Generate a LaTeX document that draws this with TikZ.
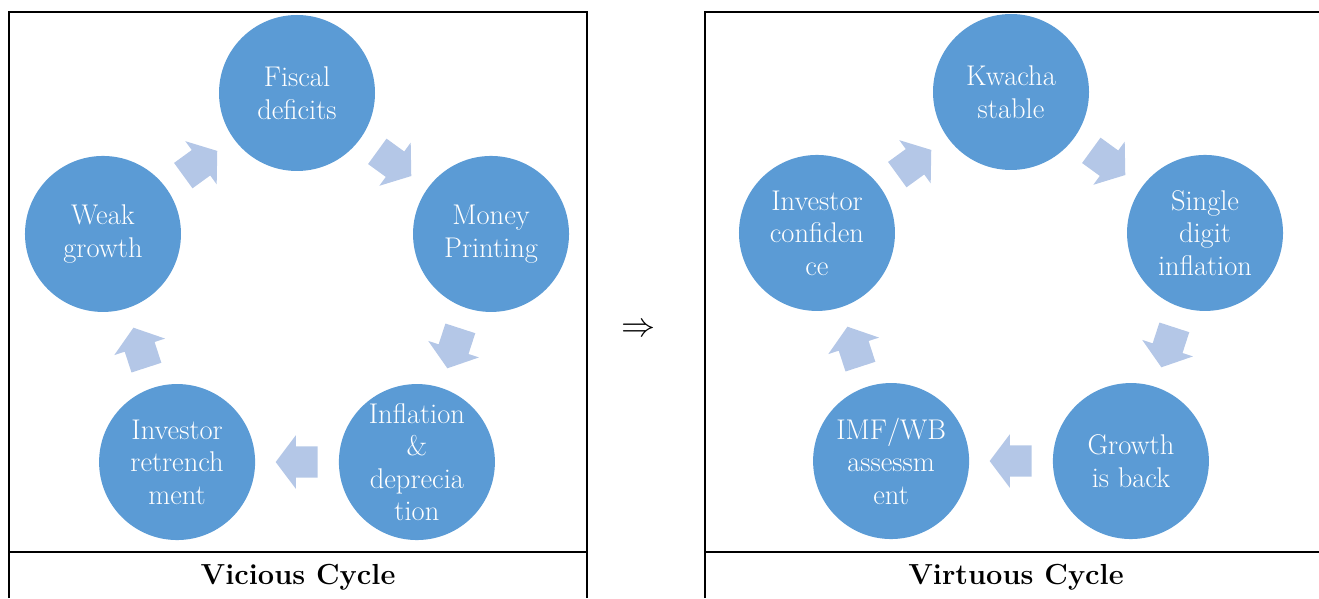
\documentclass[tikz,border=0pt]{standalone}
\usepackage{xcolor}
\definecolor{Cycle Blue}{HTML}{5B9BD5}
\definecolor{Arrow Blue}{HTML}{B4C7E7}
\colorlet{cNode}{Cycle Blue}
\colorlet{cArrow}{Arrow Blue}
\usepackage{tikz}
\usetikzlibrary{shapes.arrows}
\tikzset{
	x = 1pt,
	y = 1pt,
	cell/.style={
		line width=1.6pt
	},
	stage/.style={
		circle,
		fill=cNode,
		text=white,
		minimum size=156pt,
		inner sep=0pt,
		align=center,
		font=\fontsize{28.5}{32.5}\selectfont
	},
	turn/.style={
		single arrow,
		fill=cArrow,
		minimum height=42pt,
		inner xsep=0pt,
		inner ysep=15.5pt,
		single arrow head extend=11pt,
		single arrow tip angle=106,
		anchor=tail,
		pos=.25,
		sloped,
		allow upside down
	},
	caption/.style={
		font=\fontsize{29}{34}\selectfont\bfseries
	}
}

\begin{document}
\begin{tikzpicture}
		\useasboundingbox (0,0) rectangle (1319,598);

		% the two table cells
		\draw[cell] (9,0) -- (9,586) -- (587,586) -- (587,0);
		\draw[cell] (9,46) -- (587,46);
		\draw[cell] (705,0) -- (705,586) -- (1330,586);
		\draw[cell] (705,46) -- (1330,46);
		\node[caption] (vicious) at (298,21) {Vicious Cycle};
		\node[caption] (virtuous) at (1016,21) {Virtuous Cycle};
		\node[scale=3.4] (then) at (638,268) {$\Rightarrow$};

		\begin{scope}[shift={(297,301)}]
			\node[stage] (fiscal) at (90:204) {Fiscal\\deficits};
			\node[stage] (money) at (18:204) {Money\\Printing};
			\node[stage] (infl) at (-54:204) {Inflation\\\&\\deprecia\\tion};
			\node[stage] (retr) at (-126:204) {Investor\\retrench\\ment};
			\node[stage] (weak) at (162:204) {Weak\\growth};
		\end{scope}
		\path (fiscal) -- (money) node[turn] (v1) {};
		\path (money) -- (infl) node[turn] (v2) {};
		\path (infl) -- (retr) node[turn] (v3) {};
		\path (retr) -- (weak) node[turn] (v4) {};
		\path (weak) -- (fiscal) node[turn] (v5) {};

		\begin{scope}[shift={(1011,302)}]
			\node[stage] (kwacha) at (90:204) {Kwacha\\stable};
			\node[stage] (single) at (18:204) {Single\\digit\\inflation};
			\node[stage] (growth) at (-54:204) {Growth\\is back};
			\node[stage] (imf) at (-126:204) {IMF/WB\\assessm\\ent};
			\node[stage] (conf) at (162:204) {Investor\\confiden\\ce};
		\end{scope}
		\path (kwacha) -- (single) node[turn] (w1) {};
		\path (single) -- (growth) node[turn] (w2) {};
		\path (growth) -- (imf) node[turn] (w3) {};
		\path (imf) -- (conf) node[turn] (w4) {};
		\path (conf) -- (kwacha) node[turn] (w5) {};
\end{tikzpicture}
\end{document}
